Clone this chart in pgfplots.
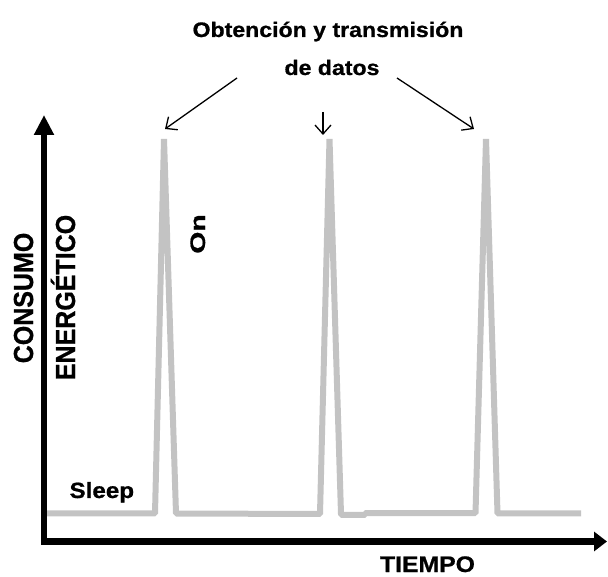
\documentclass[border=0pt]{standalone}
\usepackage{pgfplots}
\pgfplotsset{compat=1.18}
\usepackage{fontspec}
\setmainfont{Liberation Sans}[BoldFeatures={FakeBold=0.8}]
\usetikzlibrary{arrows.meta}
\definecolor{sig}{RGB}{195,195,195}
\begin{document}
\begin{tikzpicture}
\begin{axis}[
  at={(0,0)}, anchor=south west,
  scale only axis, width=608pt, height=576pt,
  xmin=0, xmax=608, ymin=0, ymax=576,
  hide axis, clip=false,
  every node/.style={inner sep=0pt, font=\bfseries}
]
% signal
\addplot[color=sig, line width=6pt, line join=bevel, line cap=butt, mark=none] coordinates {
 (47,62.5) (155,62.5) (164,437) (176,62.5) (320,62) (329.5,437) (341,62)
 (341,61) (365,61) (365,62.8) (475.5,62.8) (486,437) (497.5,62.5) (581,62.5)
};
% axes
\draw[line width=6.5pt, line join=miter,
  {Triangle[length=20pt,width=19pt]}-{Triangle[length=13pt,width=19pt]}]
  (axis cs:44,461) -- (axis cs:44,34.5) -- (axis cs:607,34.5);
% annotation arrows
\draw[line width=1.3pt, -{Straight Barb[length=9pt,width=16pt]}] (axis cs:237,498) -- (axis cs:165,447);
\draw[line width=1.3pt, -{Straight Barb[length=9pt,width=16pt]}] (axis cs:323,464) -- (axis cs:323,441);
\draw[line width=1.3pt, -{Straight Barb[length=9pt,width=16pt]}] (axis cs:397,498) -- (axis cs:474,447);
% texts
\node[anchor=base, font=\bfseries\fontsize{21}{25}\selectfont] at (axis cs:328,539) {\scalebox{1.1}[1]{Obtención y transmisión}};
\node[anchor=base, font=\bfseries\fontsize{21}{25}\selectfont] at (axis cs:332,501) {\scalebox{1.1}[1]{de datos}};
\node[anchor=base, font=\bfseries\fontsize{22.5}{27}\selectfont] at (axis cs:427.5,4) {\scalebox{1.1}[1]{TIEMPO}};
\node[anchor=base west, font=\bfseries\fontsize{22}{26}\selectfont] at (axis cs:66,78) {\scalebox{1.1}[1]{Sleep}};
\node[anchor=base, rotate=90, font=\bfseries\fontsize{21}{25}\selectfont] at (axis cs:205,342) {\scalebox{1.35}[1]{On}};
\node[anchor=base, rotate=90, font=\bfseries\fontsize{25}{30}\selectfont] at (axis cs:33,278) {\scalebox{1}[1.1]{CONSUMO}};
\node[anchor=base, rotate=90, font=\bfseries\fontsize{25}{30}\selectfont] at (axis cs:75,278.5) {\scalebox{1}[1.1]{ENERGÉTICO}};
\path (axis cs:0,0) rectangle (axis cs:608,576);
\end{axis}
\pgfresetboundingbox
\path (0,0) rectangle (608pt,576pt);
\end{tikzpicture}
\end{document}
